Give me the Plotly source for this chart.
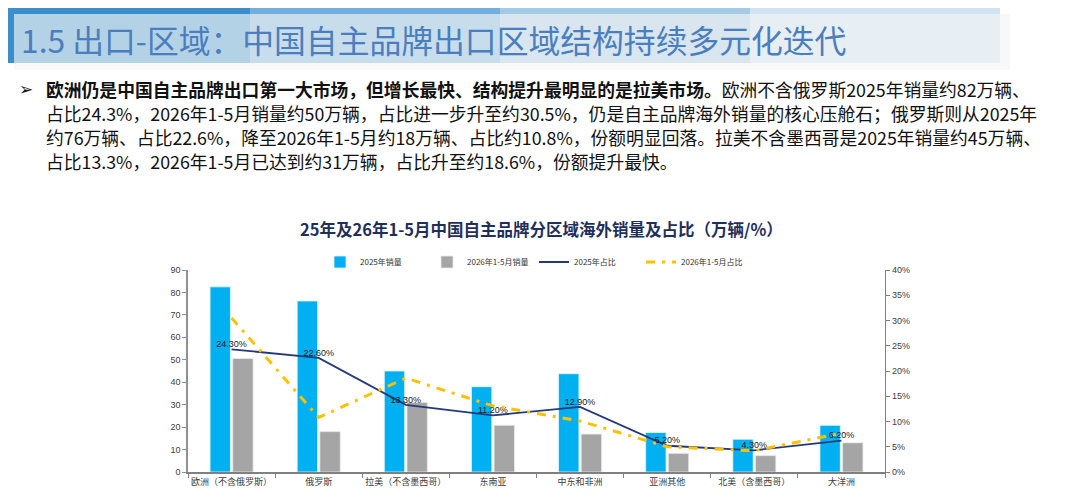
import plotly.graph_objects as go

W, H = 1080, 498
OFF = 8  # page body margin offsets the figure

categories = ["欧洲（不含俄罗斯）", "俄罗斯", "拉美（不含墨西哥）", "东南亚",
              "中东和非洲", "亚洲其他", "北美（含墨西哥）", "大洋洲"]
sales_2025 = [82.5, 76.2, 45.0, 38.0, 43.8, 17.6, 14.6, 20.8]
sales_2026 = [50.6, 18.0, 31.0, 20.8, 16.9, 8.3, 7.3, 13.0]
share_2025 = [24.3, 22.6, 13.3, 11.2, 12.9, 5.2, 4.3, 6.2]
share_2026 = [30.5, 10.8, 18.6, 13.1, 10.1, 5.0, 4.2, 7.7]

left_ticks = list(range(0, 91, 10))
right_ticks = list(range(0, 41, 5))
right_labels = [f"{v}%" for v in right_ticks]

# plot area in screen pixels
L, R, T, B = 188 - OFF, 885 - OFF, 270 - OFF, 472 - OFF


def px(x):
    return (x - OFF - L) / (R - L)


def py(y):
    return (B - (y - OFF)) / (B - T)


fig = go.Figure()
fig.add_trace(go.Bar(x=categories, y=sales_2025, name="2025年销量",
                     marker=dict(color="#00B0F0", line=dict(color="#e6f6fd", width=0.8))))
fig.add_trace(go.Bar(x=categories, y=sales_2026, name="2026年1-5月销量",
                     marker=dict(color="#A5A5A5", line=dict(color="#e8e8e8", width=0.8))))
fig.add_trace(go.Scatter(x=categories, y=share_2025, name="2025年占比", yaxis="y2",
                         mode="lines+text", line=dict(color="#24397A", width=1.8),
                         texttemplate="%{y:.2f}%", textposition="top center",
                         textfont=dict(size=9, color="#1a1a1a", family="Arial")))
fig.add_trace(go.Scatter(x=categories, y=share_2026, name="2026年1-5月占比", yaxis="y2",
                         mode="lines", line=dict(color="#FFC000", width=3, dash="9px,7px,3px,7px")))

shapes = []
blocks = [(0, 250, "#3A8FCB"), (250, 500, "#72B0DC"), (500, 750, "#A3CAE7"), (750, 1000, "#CFE3F2")]
for x0, x1, c in blocks:
    shapes.append(dict(type="rect", xref="paper", yref="paper", x0=px(x0), x1=px(x1),
                       y0=py(63), y1=py(0), fillcolor=c, line=dict(width=0), layer="below"))
shapes.append(dict(type="rect", xref="paper", yref="paper", x0=px(14), x1=px(1010),
                   y0=py(70), y1=py(14), fillcolor="rgba(245,245,245,0.66)",
                   line=dict(width=0), layer="below"))

annotations = [
    dict(text="1.5 出口-区域：中国自主品牌出口区域结构持续多元化迭代", x=px(19), y=py(39),
         font=dict(size=31.8, color="#4A7EBF", family="Noto Sans CJK SC")),
    dict(text="➢", x=px(17), y=py(89),
         font=dict(size=17, color="#111111", family="DejaVu Sans")),
    dict(text="25年及26年1-5月中国自主品牌分区域海外销量及占比（万辆/%）", x=px(541), y=py(229),
         xanchor="center",
         font=dict(size=16.5, color="#1F2F5C", family="Noto Sans CJK SC", weight="bold")),
]

lines = [
    "<b>欧洲仍是中国自主品牌出口第一大市场，但增长最快、结构提升最明显的是拉美市场。</b>欧洲不含俄罗斯2025年销量约82万辆、",
    "占比24.3%，2026年1-5月销量约50万辆，占比进一步升至约30.5%，仍是自主品牌海外销量的核心压舱石；俄罗斯则从2025年",
    "约76万辆、占比22.6%，降至2026年1-5月约18万辆、占比约10.8%，份额明显回落。拉美不含墨西哥是2025年销量约45万辆、",
    "占比13.3%，2026年1-5月已达到约31万辆，占比升至约18.6%，份额提升最快。",
]
for i, t in enumerate(lines):
    annotations.append(dict(text=t, x=px(44), y=py(89 + 24 * i),
                            font=dict(size=17.8, color="#111111", family="Noto Sans CJK SC")))

for a in annotations:
    a.setdefault("xanchor", "left")
    a.update(xref="paper", yref="paper", yanchor="middle", showarrow=False)

fig.update_layout(
    width=W, height=H,
    margin=dict(l=L, r=W - R, t=T, b=H - B, autoexpand=False),
    paper_bgcolor="white", plot_bgcolor="white",
    barmode="group", bargap=0.48, bargroupgap=0.1,
    font=dict(family="Noto Sans CJK SC", color="#404040"),
    showlegend=True,
    legend=dict(orientation="h", x=px(320), y=py(262), xanchor="left", yanchor="middle",
                entrywidth=62, entrywidthmode="pixels", font=dict(size=8, color="#333333"),
                bgcolor="rgba(0,0,0,0)", itemwidth=30),
    xaxis=dict(type="category", showline=True, linecolor="#808080", linewidth=1.5,
               ticks="outside", tickson="boundaries", ticklen=4, tickcolor="#808080",
               tickangle=0, automargin=False,
               tickfont=dict(size=9, color="#404040"), showgrid=False),
    yaxis=dict(range=[0, 90], tickvals=left_ticks, showline=True, linecolor="#909090",
               linewidth=1.5, ticks="outside", ticklen=4, tickcolor="#909090", automargin=False,
               tickfont=dict(size=9, color="#404040", family="Arial"), showgrid=False,
               zeroline=False),
    yaxis2=dict(range=[0, 40], tickvals=right_ticks, ticktext=right_labels, overlaying="y",
                side="right", showline=True, linecolor="#808080", linewidth=1.2, ticks="outside",
                ticklen=4, tickcolor="#808080", tickfont=dict(size=9, color="#404040", family="Arial"),
                showgrid=False, zeroline=False, automargin=False),
    shapes=shapes,
    annotations=annotations,
)

fig.write_html("out.html")
